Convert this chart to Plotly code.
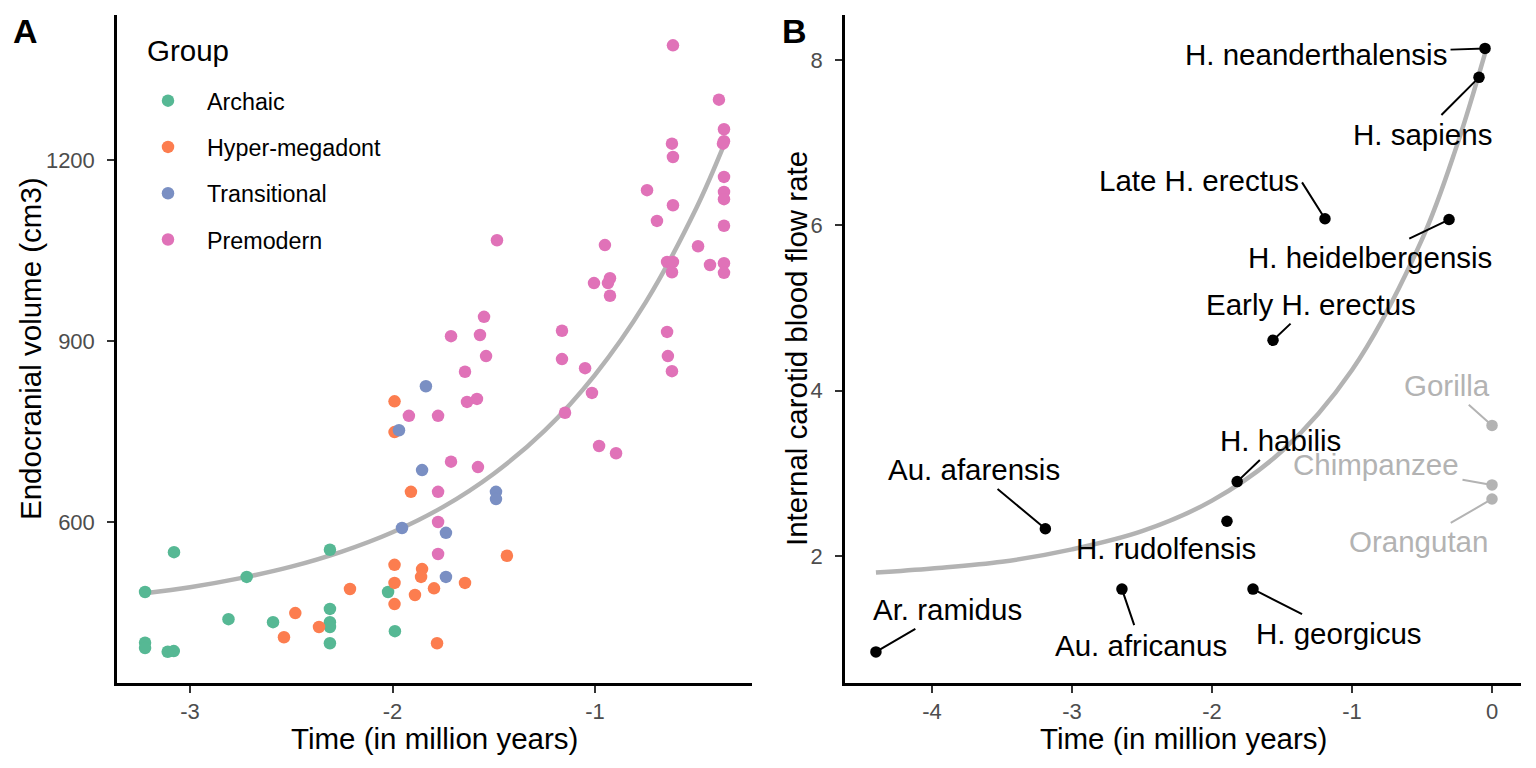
import plotly.graph_objects as go

# ---------------- Panel A data ----------------
archaic_x = [-3.222, -3.079, -2.72, -2.309, -2.81, -2.59, -3.222, -3.222, -3.11, -3.08,
             -2.309, -2.309, -2.309, -2.309, -2.022, -1.988]
archaic_y = [484, 550, 509, 554, 439, 434, 400, 391, 385, 386,
             456, 434, 426, 399, 484, 419]

hyper_x = [-2.48, -2.536, -2.363, -2.21, -1.99, -1.99, -1.99, -1.854, -1.859, -1.889,
           -1.795, -1.642, -1.78, -1.435, -1.99, -1.99, -1.909]
hyper_y = [449, 409, 426, 489, 529, 499, 464, 522, 509, 479,
           490, 499, 399, 544, 800, 749, 650]

trans_x = [-1.953, -1.736, -1.736, -1.489, -1.489, -1.854, -1.835, -1.968]
trans_y = [590, 582, 509, 650, 638, 686, 825, 752]

premod_x = [-1.775, -1.775, -1.775, -1.775, -1.919, -1.711, -1.578, -1.632, -1.583, -1.642,
            -1.538, -1.711, -1.568, -1.548, -1.484, -1.163, -1.163, -1.148, -1.049, -1.015,
            -0.98, -0.896, -1.005, -0.926, -0.936, -0.926, -0.951, -0.743, -0.694, -0.644,
            -0.615, -0.62, -0.644, -0.64, -0.62, -0.615, -0.615, -0.62, -0.615, -0.491,
            -0.432, -0.388, -0.363, -0.363, -0.368, -0.363, -0.363, -0.363, -0.363, -0.363,
            -0.363]
premod_y = [600, 547, 650, 776, 776, 700, 691, 799, 804, 849,
            875, 908, 910, 940, 1067, 917, 870, 781, 855, 814,
            726, 714, 996, 1004, 996, 975, 1059, 1150, 1099, 1031,
            1031, 1014, 915, 875, 850, 1125, 1205, 1227, 1390, 1057,
            1026, 1300, 1251, 1231, 1227, 1172, 1147, 1135, 1091, 1029,
            1013]

group_names = ["Archaic", "Hyper-megadont", "Transitional", "Premodern"]

# fitted trend
trendA_x = [-3.222, -3.0, -2.75, -2.5, -2.25, -2.0, -1.75, -1.5, -1.25, -1.0, -0.75, -0.5, -0.363]
trendA_y = [482, 492, 507, 526, 551, 583, 625, 680, 751, 844, 964, 1120, 1225]

# ---------------- Panel B data ----------------
species = ["Ar. ramidus", "Au. afarensis", "Au. africanus", "H. rudolfensis", "H. habilis",
           "H. georgicus", "Early H. erectus", "Late H. erectus", "H. heidelbergensis",
           "H. sapiens", "H. neanderthalensis", "Gorilla", "Chimpanzee", "Orangutan"]
time_b = [-4.4, -3.19, -2.643, -1.893, -1.82, -1.707, -1.564, -1.193, -0.307,
          -0.093, -0.05, 0.0, 0.0, 0.0]
flow_b = [0.84, 2.33, 1.60, 2.42, 2.90, 1.60, 4.61, 6.08, 6.07,
          7.79, 8.14, 3.58, 2.86, 2.69]
is_extant = [False] * 11 + [True] * 3

trendB_x = [-4.4, -4.0, -3.5, -3.0, -2.5, -2.0, -1.5, -1.0, -0.5, -0.25, -0.05]
trendB_y = [1.80, 1.85, 1.93, 2.08, 2.30, 2.67, 3.27, 4.25, 5.83, 6.97, 8.08]

# ---------------- styling ----------------
FONT = "Liberation Sans, Arial, Helvetica, sans-serif"
colors = ["#56B894", "#FC7D4F", "#7A8FC3", "#E072B8"]
TREND = "#B3B3B3"
EXTANT = "#B3B3B3"
TITLE_SIZE = 29.5

# label placement (pixel offset of the label anchor from the point, x-anchor, draw segment)
label_offsets = {
    "Ar. ramidus": (72, -42, "center", True),
    "Au. afarensis": (-71, -59, "center", True),
    "Au. africanus": (19, 56, "center", True),
    "H. rudolfensis": (-61, 27, "center", False),
    "H. habilis": (43, -41, "center", True),
    "H. georgicus": (86, 44, "center", True),
    "Early H. erectus": (38, -36, "center", True),
    "Late H. erectus": (-24, -38, "right", True),
    "H. heidelbergensis": (-79, 38, "center", True),
    "H. sapiens": (-57, 57, "center", True),
    "H. neanderthalensis": (-169, 6, "center", True),
    "Gorilla": (-45, -40, "center", True),
    "Chimpanzee": (-116, -20, "center", True),
    "Orangutan": (-74, 43, "center", True),
}

fig = go.Figure()

# Panel A
fig.add_trace(go.Scatter(x=trendA_x, y=trendA_y, mode="lines",
                         line=dict(color=TREND, width=4.5, shape="spline"),
                         showlegend=False, hoverinfo="skip", xaxis="x", yaxis="y"))
for name, xs, ys, c in zip(group_names, [archaic_x, hyper_x, trans_x, premod_x],
                           [archaic_y, hyper_y, trans_y, premod_y], colors):
    fig.add_trace(go.Scatter(x=xs, y=ys, mode="markers", name=name, legendgroup=name,
                             marker=dict(color=c, size=12.5, line=dict(width=0)),
                             xaxis="x", yaxis="y"))

# Panel B
fig.add_trace(go.Scatter(x=trendB_x, y=trendB_y, mode="lines",
                         line=dict(color=TREND, width=4.5, shape="spline"),
                         showlegend=False, hoverinfo="skip", xaxis="x2", yaxis="y2"))
fig.add_trace(go.Scatter(x=[t for t, e in zip(time_b, is_extant) if not e],
                         y=[f for f, e in zip(flow_b, is_extant) if not e],
                         mode="markers", marker=dict(color="black", size=11.5),
                         showlegend=False, xaxis="x2", yaxis="y2"))
fig.add_trace(go.Scatter(x=[t for t, e in zip(time_b, is_extant) if e],
                         y=[f for f, e in zip(flow_b, is_extant) if e],
                         mode="markers", marker=dict(color=EXTANT, size=11.5),
                         showlegend=False, xaxis="x2", yaxis="y2"))

annotations = []
for sp, t, f, e in zip(species, time_b, flow_b, is_extant):
    ax, ay, xanc, arrow = label_offsets[sp]
    col = EXTANT if e else "black"
    annotations.append(dict(
        x=t, y=f, xref="x2", yref="y2", text=sp, showarrow=True,
        ax=ax, ay=ay, arrowhead=0, arrowwidth=2, xanchor=xanc, yanchor="middle",
        arrowcolor=col if arrow else "rgba(0,0,0,0)",
        standoff=0, startstandoff=2,
        font=dict(family=FONT, size=TITLE_SIZE, color=col)))

W, H = 1536, 768
T, B = 15, 85
PH = H - T - B


def px_x(p):
    return p / W


def px_y(p):
    return (H - B - p) / PH


title_font = dict(family=FONT, size=TITLE_SIZE, color="black")
annotations += [
    dict(text="Time (in million years)", x=px_x(434), y=px_y(738), xref="paper", yref="paper",
         showarrow=False, font=title_font, xanchor="center", yanchor="middle"),
    dict(text="Time (in million years)", x=px_x(1183), y=px_y(738), xref="paper", yref="paper",
         showarrow=False, font=title_font, xanchor="center", yanchor="middle"),
    dict(text="Endocranial volume (cm3)", x=px_x(30), y=0.5, xref="paper", yref="paper",
         showarrow=False, font=title_font, textangle=-90, xanchor="center", yanchor="middle"),
    dict(text="Internal carotid blood flow rate", x=px_x(796), y=0.5, xref="paper", yref="paper",
         showarrow=False, font=title_font, textangle=-90, xanchor="center", yanchor="middle"),
    dict(text="Group", x=px_x(145), y=px_y(50), xref="paper", yref="paper",
         showarrow=False, font=title_font, xanchor="left", yanchor="middle"),
    dict(text="<b>A</b>", x=px_x(25), y=px_y(31), xref="paper", yref="paper",
         showarrow=False, font=dict(family=FONT, size=34, color="black"), xanchor="center", yanchor="middle"),
    dict(text="<b>B</b>", x=px_x(794), y=px_y(31), xref="paper", yref="paper",
         showarrow=False, font=dict(family=FONT, size=34, color="black"), xanchor="center", yanchor="middle"),
]

axis_common = dict(showline=True, linecolor="black", linewidth=2.5, ticks="outside", ticklen=7,
                   tickwidth=2, tickcolor="#333333", showgrid=False, zeroline=False,
                   tickfont=dict(family=FONT, size=22, color="#4D4D4D"))

fig.update_layout(
    width=W, height=H,
    margin=dict(l=0, r=0, t=T, b=B),
    paper_bgcolor="white", plot_bgcolor="white",
    font=dict(family=FONT),
    xaxis=dict(domain=[117 / W, 752 / W], range=[-3.3605, -0.2247], tickvals=[-3, -2, -1],
               ticktext=["-3", "-2", "-1"], anchor="y", **axis_common),
    yaxis=dict(domain=[0, 1], range=[333.15, 1440.3], tickvals=[600, 900, 1200], anchor="x",
               ticklabelstandoff=8, **axis_common),
    xaxis2=dict(domain=[845 / W, 1521 / W], range=[-4.621, 0.207], tickvals=[-4, -3, -2, -1, 0],
                ticktext=["-4", "-3", "-2", "-1", "0"], anchor="y2", **axis_common),
    yaxis2=dict(domain=[0, 1], range=[0.464, 8.544], tickvals=[2, 4, 6, 8], anchor="x2",
                ticklabelstandoff=8, **axis_common),
    legend=dict(x=px_x(129), y=px_y(79), xanchor="left", yanchor="top",
                font=dict(family=FONT, size=23.3, color="black"),
                tracegroupgap=13, itemwidth=68, bgcolor="rgba(0,0,0,0)"),
    annotations=annotations,
    showlegend=True,
)

fig.write_html("out.html", config={"displayModeBar": False},
               post_script="document.body.style.margin='0';document.body.style.overflow='hidden';")
